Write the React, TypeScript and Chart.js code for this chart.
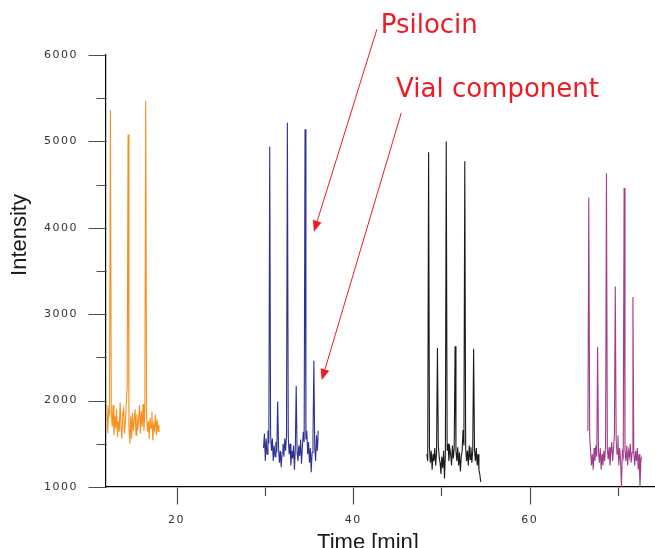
import React, { useEffect, useRef } from 'react';
import { Chart, registerables } from 'chart.js';

Chart.register(...registerables);

// Sampling interval of the chromatogram traces (min)
const sampleStep = 0.1;

// Trace 1 (orange)
const orangeStart = 12.0;
const orangeIntensity = [
  1780, 1950, 1620, 1900, 1850, 5360, 1870, 1700, 1950, 1600,
  1820, 1680, 1900, 1580, 1760, 1640, 1980, 1700, 1560, 1850,
  1900, 1620, 1760, 1980, 2150, 5080, 1700, 1500, 1820, 1560,
  1860, 1650, 1780, 1900, 1600, 1840, 1660, 1780, 1950, 1620,
  1880, 1700, 1960, 1650, 1880, 5470, 1820, 1640, 1760, 1560,
  1800, 1680, 1870, 1540, 1720, 1660, 1840, 1600, 1780, 1640,
  1720,
];

// Trace 2 (blue)
const blueStart = 29.85;
const blueIntensity = [
  1450, 1620, 1300, 1560, 1380, 1650, 1500, 4940, 1600, 1420,
  1560, 1300, 1480, 1350, 1520, 1400, 1990, 1450, 1280, 1420,
  1230, 1400, 1500, 1350, 1560, 1420, 1600, 5215, 1580, 1380,
  1500, 1250, 1420, 1330, 1480, 1200, 1450, 2170, 1400, 1300,
  1480, 1360, 1550, 1270, 1460, 1640, 1520, 5140, 1550, 1650,
  1380, 1520, 1280, 1450, 1170, 1400, 1560, 2460, 1450, 1300,
  1600, 1420, 1650,
];

// Trace 3 (black)
const blackStart = 48.35;
const blackIntensity = [
  1380, 1300, 4875, 1450, 1280, 1420, 1200, 1380, 1300, 1450,
  1250, 1400, 2610, 1480, 1350, 1280, 1150, 1350, 1220, 1420,
  1100, 1380, 5000, 1420, 1500, 1300, 1450, 1380, 1250, 1480,
  1330, 1450, 2630, 1420, 1300, 1460, 1250, 1400, 1180, 1350,
  1420, 1660, 1480, 4770, 1450, 1300, 1420, 1250, 1480, 1320,
  1460, 1280, 1420, 2600, 1430, 1300, 1450, 1250, 1380, 1200,
  1150, 1060,
];

// Trace 4 (magenta)
const magentaStart = 66.6;
const magentaIntensity = [
  1650, 4350, 1600, 1420, 1250, 1380, 1200, 1450, 1300, 1480,
  1350, 2620, 1400, 1280, 1450, 1200, 1380, 1250, 1420, 1300,
  1480, 4630, 1450, 1320, 1460, 1250, 1400, 1520, 1300, 1450,
  1600, 3320, 1550, 1380, 1600, 1250, 1450, 1300, 1000, 1400,
  1350, 4460, 1420, 1300, 1480, 1250, 1420, 1350, 1500, 1280,
  1400, 3200, 1380, 1250, 1420, 1300, 1450, 1200, 1380, 1000,
  1300, 1350,
];

const traceColors = ['#f7901e', '#2e3192', '#1a1a1a', '#a23d8c'];

// Axes
const xMin = 12;
const xMax = 74.2;
const yMin = 1000;
const yMax = 6000;
const yMajorTicks = [1000, 2000, 3000, 4000, 5000, 6000];
const yMinorTicks = [1500, 2500, 3500, 4500, 5500];
const xTicks = [20, 30, 40, 50, 60, 70];
const xLabelledTicks = [20, 40, 60];
const xTitle = 'Time [min]';
const yTitle = 'Intensity';

// Annotations (positions in data units: [min, intensity])
const annotationTexts = ['Psilocin', 'Vial component'];
const annotationTextAt = [[43.12, 6251], [44.86, 5517]];
const annotationArrowFrom = [[42.69, 6297], [45.46, 5332]];
const annotationArrowTo = [[35.56, 3955], [36.45, 2238]];

function toPoints(start: number, values: number[]) {
  return values.map((v, i) => ({ x: +(start + i * sampleStep).toFixed(3), y: v }));
}

const decorPlugin = {
  id: 'decor',
  beforeDraw(chart: any) {
    (chart.ctx as any).letterSpacing = '1.5px';
  },
  afterDraw(chart: any) {
    const ctx = chart.ctx as CanvasRenderingContext2D;
    const xs = chart.scales.x;
    const ys = chart.scales.y;
    const area = chart.chartArea;
    ctx.save();
    (ctx as any).letterSpacing = '0px';

    // tick marks
    ctx.strokeStyle = '#4d4d4d';
    ctx.lineWidth = 1.2;
    const axisX = area.left + 0.5;
    const axisY = area.bottom + 0.5;
    ctx.beginPath();
    yMajorTicks.forEach((v) => {
      const y = Math.round(ys.getPixelForValue(v)) + 0.5;
      ctx.moveTo(axisX - 18, y);
      ctx.lineTo(axisX, y);
    });
    yMinorTicks.forEach((v) => {
      const y = Math.round(ys.getPixelForValue(v)) + 0.5;
      ctx.moveTo(axisX - 10, y);
      ctx.lineTo(axisX, y);
    });
    xTicks.forEach((v) => {
      const x = Math.round(xs.getPixelForValue(v)) + 0.5;
      const len = xLabelledTicks.includes(v) ? 17 : 8.5;
      ctx.moveTo(x, axisY);
      ctx.lineTo(x, axisY + len);
    });
    ctx.stroke();

    // axis titles
    ctx.fillStyle = '#1a1a1a';
    ctx.font = '22px "Liberation Sans", Arial, sans-serif';
    ctx.textAlign = 'center';
    ctx.textBaseline = 'alphabetic';
    ctx.fillText(xTitle, 368, 548.5);
    ctx.save();
    ctx.translate(26, 235);
    ctx.rotate(-Math.PI / 2);
    ctx.fillText(yTitle, 0, 0);
    ctx.restore();

    // annotations
    ctx.fillStyle = '#ed1c24';
    ctx.strokeStyle = '#ed1c24';
    ctx.font = '26px "DejaVu Sans", sans-serif';
    ctx.textAlign = 'left';
    annotationTexts.forEach((txt, i) => {
      const tx = xs.getPixelForValue(annotationTextAt[i][0]);
      const ty = ys.getPixelForValue(annotationTextAt[i][1]);
      ctx.fillText(txt, tx, ty);
      const fx = xs.getPixelForValue(annotationArrowFrom[i][0]);
      const fy = ys.getPixelForValue(annotationArrowFrom[i][1]);
      const tox = xs.getPixelForValue(annotationArrowTo[i][0]);
      const toy = ys.getPixelForValue(annotationArrowTo[i][1]);
      const ang = Math.atan2(toy - fy, tox - fx);
      const headLen = 11;
      const headHalf = 4.5;
      const bx = tox - headLen * Math.cos(ang);
      const by = toy - headLen * Math.sin(ang);
      ctx.lineWidth = 1;
      ctx.beginPath();
      ctx.moveTo(fx, fy);
      ctx.lineTo(bx, by);
      ctx.stroke();
      ctx.beginPath();
      ctx.moveTo(tox, toy);
      ctx.lineTo(bx + headHalf * Math.sin(ang), by - headHalf * Math.cos(ang));
      ctx.lineTo(bx - headHalf * Math.sin(ang), by + headHalf * Math.cos(ang));
      ctx.closePath();
      ctx.fill();
    });
    ctx.restore();
  },
};

export default function App() {
  const canvasRef = useRef<HTMLCanvasElement | null>(null);

  useEffect(() => {
    if (!canvasRef.current) return;
    const traces = [
      toPoints(orangeStart, orangeIntensity),
      toPoints(blueStart, blueIntensity),
      toPoints(blackStart, blackIntensity),
      toPoints(magentaStart, magentaIntensity),
    ];
    const chart = new Chart(canvasRef.current, {
      type: 'line',
      data: {
        datasets: traces.map((pts, i) => ({
          data: pts,
          borderColor: traceColors[i],
          borderWidth: 1.1,
          pointRadius: 0,
          tension: 0,
          fill: false,
        })),
      },
      options: {
        responsive: false,
        animation: false,
        devicePixelRatio: 1,
        layout: { padding: { top: 55, right: 0, bottom: 0, left: 0 } },
        plugins: {
          legend: { display: false },
          tooltip: { enabled: false },
        },
        scales: {
          x: {
            type: 'linear',
            min: xMin,
            max: xMax,
            position: 'bottom',
            afterBuildTicks: (s: any) => {
              s.ticks = xTicks.map((v) => ({ value: v }));
            },
            afterFit: (s: any) => {
              s.height = 61;
            },
            grid: { display: false, drawTicks: false },
            border: { color: '#000', width: 1.2 },
            ticks: {
              autoSkip: false,
              maxRotation: 0,
              padding: 27,
              color: '#333',
              font: { family: '"DejaVu Sans", sans-serif', size: 11 },
              callback: (v: any) => (xLabelledTicks.includes(Number(v)) ? String(v) : ''),
            },
          },
          y: {
            type: 'linear',
            min: yMin,
            max: yMax,
            afterBuildTicks: (s: any) => {
              s.ticks = yMajorTicks.map((v) => ({ value: v }));
            },
            afterFit: (s: any) => {
              s.width = 106;
            },
            grid: { display: false, drawTicks: false },
            border: { color: '#000', width: 1.2 },
            ticks: {
              padding: 28,
              color: '#333',
              font: { family: '"DejaVu Sans", sans-serif', size: 11 },
              callback: (v: any) => String(v),
            },
          },
        },
      },
      plugins: [decorPlugin],
    });
    return () => chart.destroy();
  }, []);

  return (
    <div style={{ position: 'absolute', left: 0, top: 0, width: 655, height: 548 }}>
      <canvas ref={canvasRef} width={655} height={548} style={{ display: 'block' }} />
    </div>
  );
}
